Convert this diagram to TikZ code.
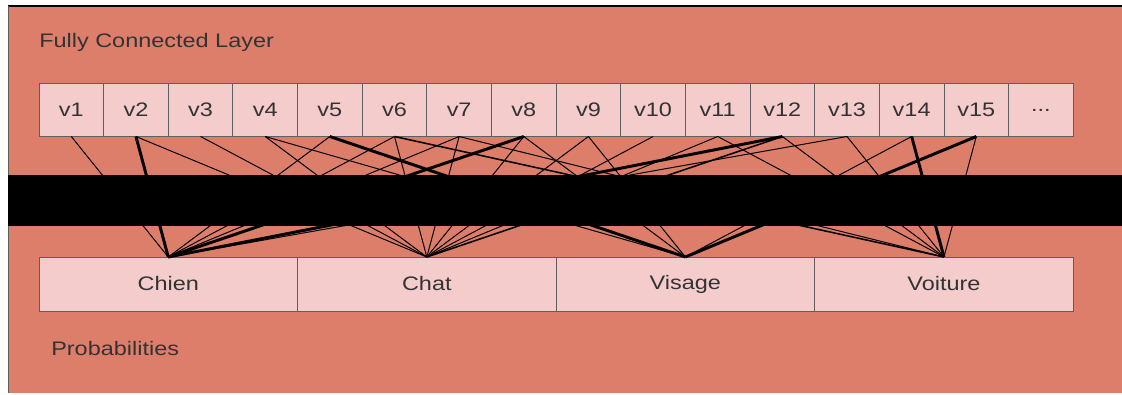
\documentclass[tikz,border=0pt]{standalone}
\usepackage{fontspec}
\setmainfont{Liberation Sans}[FakeStretch=1.2]
\usetikzlibrary{positioning}
\definecolor{berry}{HTML}{DD7E6B}
\definecolor{blush}{HTML}{F4CCCC}
\definecolor{ink}{HTML}{333333}
\definecolor{edge}{HTML}{5F5F5F}

\begin{document}
\begin{tikzpicture}[x=0.025cm, y=-0.025cm, font=\fontsize{13.9}{16}\selectfont]
% Definition of blocks:
\tikzset{%
  cell/.style     = {draw=edge, fill=blush, text=ink, line width=0.6pt, inner sep=0pt, outer sep=0pt, minimum width=1.6156cm, minimum height=1.325cm},
  class/.style    = {cell, minimum width=6.4625cm, minimum height=1.35cm},
  caption/.style  = {text=ink, anchor=west, inner sep=0pt},
  wire/.style     = {line width=0.7pt},
  midwire/.style  = {line width=1.1pt},
  boldwire/.style = {line width=2.1pt}
}
\useasboundingbox (0,0) rectangle (1122,394);

% background panel
\fill[berry] (8,6) rectangle (1122,393);
\draw[black, line width=1.4pt] (8,6) -- (1122,6);
\draw[edge, line width=0.6pt] (8,6) -- (8,393);

\node[caption] (fcl) at (39,42) {Fully Connected Layer};
\node[caption] (proba) at (51,349) {Probabilities};

% layer values
\node[cell] (v1) at (71.3,110) {v1};
\foreach \i [remember=\i as \j (initially 1)] in {2,...,15}
  \node[cell, right=0pt of v\j] (v\i) {v\i};
\node[cell, right=0pt of v15] (more) {...};

% output classes
\node[class] (Chien) at (168.25,284) {Chien};
\node[class, right=0pt of Chien] (Chat) {Chat};
\node[class, right=0pt of Chat] (Visage) {Visage};
\node[class, right=0pt of Visage] (Voiture) {Voiture};

% weights
\foreach \a/\b/\w in {1/Chien/wire, 2/Chien/boldwire, 2/Chat/wire, 3/Chat/wire,
    4/Chat/wire, 4/Visage/wire, 5/Chien/wire, 5/Visage/boldwire,
    6/Chien/wire, 6/Chat/wire, 6/Voiture/midwire,
    7/Chien/wire, 7/Chat/wire, 7/Voiture/wire,
    8/Chien/boldwire, 8/Chat/wire, 8/Visage/wire,
    9/Chat/wire, 9/Visage/wire, 10/Chat/wire,
    11/Chat/wire, 11/Voiture/wire,
    12/Chien/boldwire, 12/Chat/midwire, 12/Voiture/wire,
    13/Chien/wire, 13/Voiture/wire,
    14/Visage/wire, 14/Voiture/boldwire,
    15/Visage/boldwire, 15/Voiture/wire}
  \draw[\w] (v\a.south) -- (\b.north);

% band across the middle
\fill[black] (8,175) rectangle (1122,226);

\end{tikzpicture}
\end{document}
